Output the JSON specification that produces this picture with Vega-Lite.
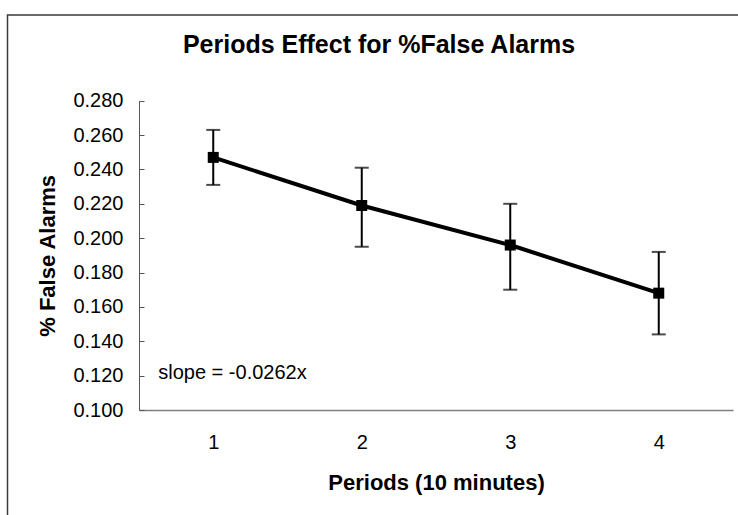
{
  "$schema": "https://vega.github.io/schema/vega-lite/v6.json",
  "width": 743,
  "height": 510,
  "autosize": {"type": "none"},
  "padding": {"left": 7.5, "top": 15, "right": 0, "bottom": 0},
  "background": "white",
  "config": {
    "font": "Liberation Sans",
    "view": {"stroke": "#3a3a3a", "strokeWidth": 1.5, "fill": "white"}
  },
  "title": {
    "text": "Periods Effect for %False Alarms",
    "font": "Liberation Sans",
    "fontSize": 25,
    "fontWeight": "bold",
    "color": "black",
    "anchor": "middle",
    "frame": "group",
    "baseline": "middle",
    "offset": -32,
    "dy": 23
  },
  "datasets": {
    "periods": [
      {"period": 1, "value": 0.247, "lo": 0.231, "hi": 0.263},
      {"period": 2, "value": 0.219, "lo": 0.195, "hi": 0.241},
      {"period": 3, "value": 0.196, "lo": 0.170, "hi": 0.220},
      {"period": 4, "value": 0.168, "lo": 0.144, "hi": 0.192}
    ],
    "notes": [
      {"period": 1, "value": 0.1215, "label": "slope = -0.0262x"}
    ]
  },
  "data": {"name": "periods"},
  "encoding": {
    "x": {
      "field": "period",
      "type": "ordinal",
      "scale": {"type": "point", "range": [131.5, 725.5], "padding": 0.5},
      "axis": {
        "orient": "bottom",
        "offset": -115,
        "title": "Periods (10 minutes)",
        "titleFont": "Liberation Sans",
        "titleFontSize": 22,
        "titleFontWeight": "bold",
        "titleColor": "black",
        "titlePadding": 20,
        "labelFont": "Liberation Sans",
        "labelFontSize": 20,
        "labelColor": "black",
        "labelAngle": 0,
        "labelPadding": 22,
        "ticks": false,
        "domainColor": "#808080",
        "domainWidth": 1.5,
        "grid": false
      }
    }
  },
  "layer": [
    {
      "mark": {"type": "rule", "color": "black", "strokeWidth": 2},
      "encoding": {
        "y": {
          "field": "lo",
          "type": "quantitative",
          "scale": {"domain": [0.1, 0.28], "range": [395, 85.7], "nice": false, "zero": false},
          "axis": {
            "orient": "left",
            "offset": -131.5,
            "values": [0.1, 0.12, 0.14, 0.16, 0.18, 0.2, 0.22, 0.24, 0.26, 0.28],
            "format": ".3f",
            "title": "% False Alarms",
            "titleFont": "Liberation Sans",
            "titleFontSize": 22,
            "titleFontWeight": "bold",
            "titleColor": "black",
            "titlePadding": 13,
            "labelFont": "Liberation Sans",
            "labelFontSize": 20,
            "labelColor": "black",
            "labelPadding": 21,
            "tickSize": -5,
            "tickColor": "#555555",
            "tickWidth": 1,
            "domainColor": "#555555",
            "domainWidth": 1,
            "grid": false
          }
        },
        "y2": {"field": "hi"}
      }
    },
    {
      "mark": {"type": "tick", "color": "black", "size": 14, "thickness": 2},
      "encoding": {"y": {"field": "lo", "type": "quantitative"}}
    },
    {
      "mark": {"type": "tick", "color": "black", "size": 14, "thickness": 2},
      "encoding": {"y": {"field": "hi", "type": "quantitative"}}
    },
    {
      "mark": {"type": "line", "color": "black", "strokeWidth": 4},
      "encoding": {"y": {"field": "value", "type": "quantitative"}}
    },
    {
      "mark": {"type": "point", "shape": "square", "filled": true, "color": "black", "opacity": 1, "size": 121},
      "encoding": {"y": {"field": "value", "type": "quantitative"}}
    },
    {
      "data": {"name": "notes"},
      "mark": {"type": "text", "align": "left", "baseline": "middle", "dx": -55, "font": "Liberation Sans", "fontSize": 20, "color": "black"},
      "encoding": {
        "y": {"field": "value", "type": "quantitative"},
        "text": {"field": "label"}
      }
    }
  ]
}
